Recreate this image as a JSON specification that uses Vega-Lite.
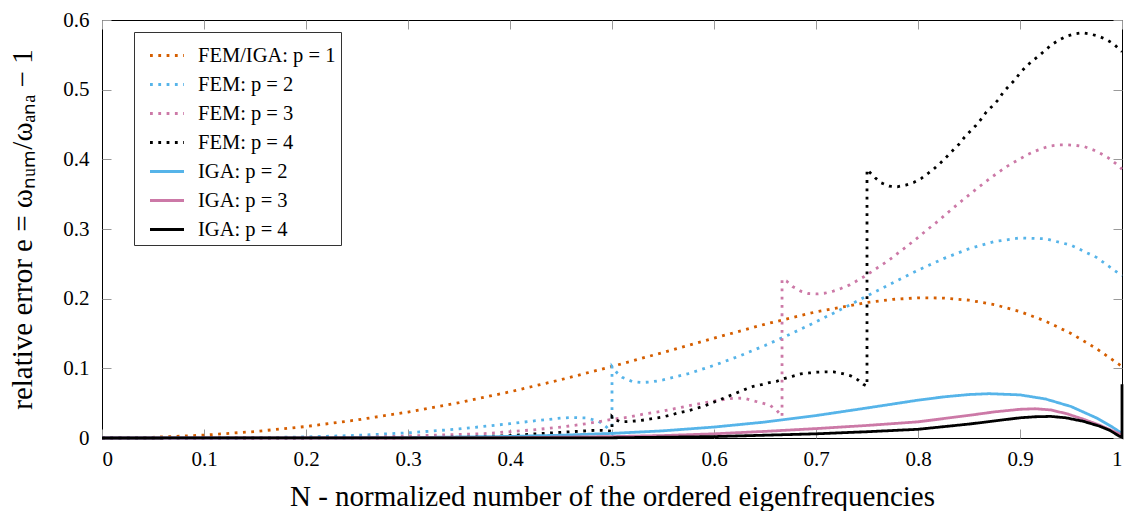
{
  "$schema": "https://vega.github.io/schema/vega-lite/v6.json",
  "width": 1020,
  "height": 418,
  "autosize": "none",
  "padding": {"left": 102, "top": 20, "right": 4, "bottom": 73},
  "background": "white",
  "config": {
    "font": "Liberation Serif",
    "view": {"stroke": "#000000", "strokeWidth": 1},
    "axis": {"grid": false, "domain": false, "labelFont": "Liberation Serif", "titleFont": "Liberation Serif", "labelColor": "#000", "titleColor": "#000", "titleFontWeight": "normal", "tickColor": "#9a9a9a", "tickWidth": 1},
    "legend": {"orient": "none", "legendX": 32, "legendY": 12, "labelFontSize": 20.5, "labelFont": "Liberation Serif", "labelColor": "#000", "symbolType": "stroke", "symbolSize": 1156, "symbolStrokeWidth": 2.8, "fillColor": "white", "strokeColor": "#333", "padding": 5, "rowPadding": 0, "labelOffset": 12.5, "symbolOffset": 9.5}
  },
  "data": {"values": [
    {"s":"FEM/IGA: p = 1","N":0,"e":0,"o":0},{"s":"FEM/IGA: p = 1","N":0.05,"e":0.001,"o":1},{"s":"FEM/IGA: p = 1","N":0.1,"e":0.0041,"o":2},{"s":"FEM/IGA: p = 1","N":0.15,"e":0.0093,"o":3},{"s":"FEM/IGA: p = 1","N":0.2,"e":0.0165,"o":4},{"s":"FEM/IGA: p = 1","N":0.25,"e":0.0259,"o":5},{"s":"FEM/IGA: p = 1","N":0.3,"e":0.0373,"o":6},{"s":"FEM/IGA: p = 1","N":0.35,"e":0.0508,"o":7},{"s":"FEM/IGA: p = 1","N":0.4,"e":0.0663,"o":8},{"s":"FEM/IGA: p = 1","N":0.45,"e":0.0837,"o":9},{"s":"FEM/IGA: p = 1","N":0.5,"e":0.1027,"o":10},{"s":"FEM/IGA: p = 1","N":0.55,"e":0.1228,"o":11},{"s":"FEM/IGA: p = 1","N":0.6,"e":0.1433,"o":12},{"s":"FEM/IGA: p = 1","N":0.65,"e":0.1633,"o":13},{"s":"FEM/IGA: p = 1","N":0.7,"e":0.1811,"o":14},{"s":"FEM/IGA: p = 1","N":0.75,"e":0.1946,"o":15},{"s":"FEM/IGA: p = 1","N":0.775,"e":0.1989,"o":16},{"s":"FEM/IGA: p = 1","N":0.8,"e":0.2012,"o":17},{"s":"FEM/IGA: p = 1","N":0.825,"e":0.2009,"o":18},{"s":"FEM/IGA: p = 1","N":0.85,"e":0.1978,"o":19},{"s":"FEM/IGA: p = 1","N":0.875,"e":0.1914,"o":20},{"s":"FEM/IGA: p = 1","N":0.9,"e":0.1815,"o":21},{"s":"FEM/IGA: p = 1","N":0.925,"e":0.1678,"o":22},{"s":"FEM/IGA: p = 1","N":0.95,"e":0.1501,"o":23},{"s":"FEM/IGA: p = 1","N":0.975,"e":0.1283,"o":24},{"s":"FEM/IGA: p = 1","N":1,"e":0.1027,"o":25},

    {"s":"FEM: p = 2","N":0,"e":0,"o":0},{"s":"FEM: p = 2","N":0.1,"e":0.0001,"o":1},{"s":"FEM: p = 2","N":0.15,"e":0.0005,"o":2},{"s":"FEM: p = 2","N":0.2,"e":0.0016,"o":3},{"s":"FEM: p = 2","N":0.25,"e":0.0038,"o":4},{"s":"FEM: p = 2","N":0.3,"e":0.0074,"o":5},{"s":"FEM: p = 2","N":0.35,"e":0.013,"o":6},{"s":"FEM: p = 2","N":0.4,"e":0.0205,"o":7},{"s":"FEM: p = 2","N":0.425,"e":0.0248,"o":8},{"s":"FEM: p = 2","N":0.45,"e":0.0285,"o":9},{"s":"FEM: p = 2","N":0.46,"e":0.0294,"o":10},{"s":"FEM: p = 2","N":0.475,"e":0.0287,"o":11},{"s":"FEM: p = 2","N":0.485,"e":0.025,"o":12},{"s":"FEM: p = 2","N":0.49,"e":0.0212,"o":13},{"s":"FEM: p = 2","N":0.495,"e":0.0152,"o":14},{"s":"FEM: p = 2","N":0.498,"e":0.0104,"o":15},{"s":"FEM: p = 2","N":0.5,"e":0.0066,"o":16},{"s":"FEM: p = 2","N":0.5,"e":0.1027,"o":17},{"s":"FEM: p = 2","N":0.505,"e":0.0934,"o":18},{"s":"FEM: p = 2","N":0.51,"e":0.0871,"o":19},{"s":"FEM: p = 2","N":0.52,"e":0.081,"o":20},{"s":"FEM: p = 2","N":0.53,"e":0.0797,"o":21},{"s":"FEM: p = 2","N":0.54,"e":0.0808,"o":22},{"s":"FEM: p = 2","N":0.55,"e":0.0833,"o":23},{"s":"FEM: p = 2","N":0.575,"e":0.0924,"o":24},{"s":"FEM: p = 2","N":0.6,"e":0.1042,"o":25},{"s":"FEM: p = 2","N":0.625,"e":0.1177,"o":26},{"s":"FEM: p = 2","N":0.65,"e":0.1328,"o":27},{"s":"FEM: p = 2","N":0.675,"e":0.1492,"o":28},{"s":"FEM: p = 2","N":0.7,"e":0.1667,"o":29},{"s":"FEM: p = 2","N":0.725,"e":0.185,"o":30},{"s":"FEM: p = 2","N":0.75,"e":0.2038,"o":31},{"s":"FEM: p = 2","N":0.775,"e":0.2226,"o":32},{"s":"FEM: p = 2","N":0.8,"e":0.2408,"o":33},{"s":"FEM: p = 2","N":0.825,"e":0.2575,"o":34},{"s":"FEM: p = 2","N":0.85,"e":0.2716,"o":35},{"s":"FEM: p = 2","N":0.875,"e":0.282,"o":36},{"s":"FEM: p = 2","N":0.9,"e":0.2872,"o":37},{"s":"FEM: p = 2","N":0.925,"e":0.2859,"o":38},{"s":"FEM: p = 2","N":0.95,"e":0.2768,"o":39},{"s":"FEM: p = 2","N":0.975,"e":0.2593,"o":40},{"s":"FEM: p = 2","N":1,"e":0.2328,"o":41},

    {"s":"FEM: p = 3","N":0,"e":0,"o":0},{"s":"FEM: p = 3","N":0.1,"e":0,"o":1},{"s":"FEM: p = 3","N":0.2,"e":0.0003,"o":2},{"s":"FEM: p = 3","N":0.25,"e":0.001,"o":3},{"s":"FEM: p = 3","N":0.3,"e":0.0028,"o":4},{"s":"FEM: p = 3","N":0.35,"e":0.0052,"o":5},{"s":"FEM: p = 3","N":0.375,"e":0.0063,"o":6},{"s":"FEM: p = 3","N":0.4,"e":0.009,"o":7},{"s":"FEM: p = 3","N":0.425,"e":0.012,"o":8},{"s":"FEM: p = 3","N":0.45,"e":0.0157,"o":9},{"s":"FEM: p = 3","N":0.475,"e":0.0205,"o":10},{"s":"FEM: p = 3","N":0.5,"e":0.0268,"o":11},{"s":"FEM: p = 3","N":0.516,"e":0.0298,"o":12},{"s":"FEM: p = 3","N":0.532,"e":0.0346,"o":13},{"s":"FEM: p = 3","N":0.549,"e":0.0384,"o":14},{"s":"FEM: p = 3","N":0.565,"e":0.0432,"o":15},{"s":"FEM: p = 3","N":0.581,"e":0.048,"o":16},{"s":"FEM: p = 3","N":0.598,"e":0.0527,"o":17},{"s":"FEM: p = 3","N":0.614,"e":0.0562,"o":18},{"s":"FEM: p = 3","N":0.622,"e":0.0572,"o":19},{"s":"FEM: p = 3","N":0.63,"e":0.057,"o":20},{"s":"FEM: p = 3","N":0.6386,"e":0.0535,"o":21},{"s":"FEM: p = 3","N":0.6467,"e":0.0504,"o":22},{"s":"FEM: p = 3","N":0.655,"e":0.047,"o":23},{"s":"FEM: p = 3","N":0.6614,"e":0.0398,"o":24},{"s":"FEM: p = 3","N":0.6667,"e":0.031,"o":25},{"s":"FEM: p = 3","N":0.6667,"e":0.228,"o":26},{"s":"FEM: p = 3","N":0.671,"e":0.2255,"o":27},{"s":"FEM: p = 3","N":0.677,"e":0.2174,"o":28},{"s":"FEM: p = 3","N":0.685,"e":0.2108,"o":29},{"s":"FEM: p = 3","N":0.6925,"e":0.2074,"o":30},{"s":"FEM: p = 3","N":0.7007,"e":0.2068,"o":31},{"s":"FEM: p = 3","N":0.7088,"e":0.2079,"o":32},{"s":"FEM: p = 3","N":0.717,"e":0.2108,"o":33},{"s":"FEM: p = 3","N":0.725,"e":0.215,"o":34},{"s":"FEM: p = 3","N":0.733,"e":0.2198,"o":35},{"s":"FEM: p = 3","N":0.7405,"e":0.226,"o":36},{"s":"FEM: p = 3","N":0.7474,"e":0.2317,"o":37},{"s":"FEM: p = 3","N":0.7539,"e":0.238,"o":38},{"s":"FEM: p = 3","N":0.7611,"e":0.2452,"o":39},{"s":"FEM: p = 3","N":0.768,"e":0.2518,"o":40},{"s":"FEM: p = 3","N":0.775,"e":0.259,"o":41},{"s":"FEM: p = 3","N":0.7814,"e":0.2666,"o":42},{"s":"FEM: p = 3","N":0.788,"e":0.2738,"o":43},{"s":"FEM: p = 3","N":0.7944,"e":0.2814,"o":44},{"s":"FEM: p = 3","N":0.801,"e":0.289,"o":45},{"s":"FEM: p = 3","N":0.8075,"e":0.2971,"o":46},{"s":"FEM: p = 3","N":0.814,"e":0.3048,"o":47},{"s":"FEM: p = 3","N":0.8206,"e":0.3124,"o":48},{"s":"FEM: p = 3","N":0.8268,"e":0.3205,"o":49},{"s":"FEM: p = 3","N":0.833,"e":0.3282,"o":50},{"s":"FEM: p = 3","N":0.8395,"e":0.3363,"o":51},{"s":"FEM: p = 3","N":0.8458,"e":0.344,"o":52},{"s":"FEM: p = 3","N":0.8523,"e":0.3516,"o":53},{"s":"FEM: p = 3","N":0.8588,"e":0.3592,"o":54},{"s":"FEM: p = 3","N":0.8654,"e":0.3668,"o":55},{"s":"FEM: p = 3","N":0.8719,"e":0.374,"o":56},{"s":"FEM: p = 3","N":0.8787,"e":0.3812,"o":57},{"s":"FEM: p = 3","N":0.8856,"e":0.3884,"o":58},{"s":"FEM: p = 3","N":0.8925,"e":0.3945,"o":59},{"s":"FEM: p = 3","N":0.8997,"e":0.4003,"o":60},{"s":"FEM: p = 3","N":0.9069,"e":0.4064,"o":61},{"s":"FEM: p = 3","N":0.9147,"e":0.4117,"o":62},{"s":"FEM: p = 3","N":0.9225,"e":0.416,"o":63},{"s":"FEM: p = 3","N":0.9304,"e":0.4193,"o":64},{"s":"FEM: p = 3","N":0.9385,"e":0.4207,"o":65},{"s":"FEM: p = 3","N":0.9468,"e":0.4207,"o":66},{"s":"FEM: p = 3","N":0.9552,"e":0.4199,"o":67},{"s":"FEM: p = 3","N":0.9634,"e":0.418,"o":68},{"s":"FEM: p = 3","N":0.9716,"e":0.4136,"o":69},{"s":"FEM: p = 3","N":0.9791,"e":0.4084,"o":70},{"s":"FEM: p = 3","N":0.9866,"e":0.4022,"o":71},{"s":"FEM: p = 3","N":0.993,"e":0.395,"o":72},{"s":"FEM: p = 3","N":1,"e":0.386,"o":73},

    {"s":"FEM: p = 4","N":0,"e":0,"o":0},{"s":"FEM: p = 4","N":0.2,"e":0,"o":1},{"s":"FEM: p = 4","N":0.3,"e":0.0004,"o":2},{"s":"FEM: p = 4","N":0.35,"e":0.0012,"o":3},{"s":"FEM: p = 4","N":0.4,"e":0.0035,"o":4},{"s":"FEM: p = 4","N":0.426,"e":0.006,"o":5},{"s":"FEM: p = 4","N":0.452,"e":0.0083,"o":6},{"s":"FEM: p = 4","N":0.469,"e":0.0098,"o":7},{"s":"FEM: p = 4","N":0.48,"e":0.0108,"o":8},{"s":"FEM: p = 4","N":0.49,"e":0.011,"o":9},{"s":"FEM: p = 4","N":0.497,"e":0.0102,"o":10},{"s":"FEM: p = 4","N":0.5,"e":0.0095,"o":11},{"s":"FEM: p = 4","N":0.5,"e":0.031,"o":12},{"s":"FEM: p = 4","N":0.504,"e":0.026,"o":13},{"s":"FEM: p = 4","N":0.508,"e":0.0232,"o":14},{"s":"FEM: p = 4","N":0.516,"e":0.0236,"o":15},{"s":"FEM: p = 4","N":0.524,"e":0.0245,"o":16},{"s":"FEM: p = 4","N":0.532,"e":0.026,"o":17},{"s":"FEM: p = 4","N":0.54,"e":0.028,"o":18},{"s":"FEM: p = 4","N":0.549,"e":0.03,"o":19},{"s":"FEM: p = 4","N":0.557,"e":0.0327,"o":20},{"s":"FEM: p = 4","N":0.565,"e":0.036,"o":21},{"s":"FEM: p = 4","N":0.573,"e":0.0384,"o":22},{"s":"FEM: p = 4","N":0.581,"e":0.0418,"o":23},{"s":"FEM: p = 4","N":0.59,"e":0.0456,"o":24},{"s":"FEM: p = 4","N":0.598,"e":0.0504,"o":25},{"s":"FEM: p = 4","N":0.606,"e":0.0551,"o":26},{"s":"FEM: p = 4","N":0.614,"e":0.0599,"o":27},{"s":"FEM: p = 4","N":0.622,"e":0.0647,"o":28},{"s":"FEM: p = 4","N":0.63,"e":0.0695,"o":29},{"s":"FEM: p = 4","N":0.6386,"e":0.0742,"o":30},{"s":"FEM: p = 4","N":0.6467,"e":0.0766,"o":31},{"s":"FEM: p = 4","N":0.653,"e":0.079,"o":32},{"s":"FEM: p = 4","N":0.6614,"e":0.0814,"o":33},{"s":"FEM: p = 4","N":0.6686,"e":0.0852,"o":34},{"s":"FEM: p = 4","N":0.6768,"e":0.0885,"o":35},{"s":"FEM: p = 4","N":0.685,"e":0.0919,"o":36},{"s":"FEM: p = 4","N":0.6934,"e":0.0934,"o":37},{"s":"FEM: p = 4","N":0.7013,"e":0.0945,"o":38},{"s":"FEM: p = 4","N":0.7095,"e":0.095,"o":39},{"s":"FEM: p = 4","N":0.7176,"e":0.0948,"o":40},{"s":"FEM: p = 4","N":0.7261,"e":0.0924,"o":41},{"s":"FEM: p = 4","N":0.734,"e":0.0893,"o":42},{"s":"FEM: p = 4","N":0.741,"e":0.0835,"o":43},{"s":"FEM: p = 4","N":0.7464,"e":0.077,"o":44},{"s":"FEM: p = 4","N":0.75,"e":0.0745,"o":45},{"s":"FEM: p = 4","N":0.75,"e":0.3855,"o":46},{"s":"FEM: p = 4","N":0.758,"e":0.3735,"o":47},{"s":"FEM: p = 4","N":0.7637,"e":0.3664,"o":48},{"s":"FEM: p = 4","N":0.7716,"e":0.3616,"o":49},{"s":"FEM: p = 4","N":0.7797,"e":0.3606,"o":50},{"s":"FEM: p = 4","N":0.788,"e":0.363,"o":51},{"s":"FEM: p = 4","N":0.7958,"e":0.3668,"o":52},{"s":"FEM: p = 4","N":0.8033,"e":0.3726,"o":53},{"s":"FEM: p = 4","N":0.8098,"e":0.3797,"o":54},{"s":"FEM: p = 4","N":0.8164,"e":0.3874,"o":55},{"s":"FEM: p = 4","N":0.8225,"e":0.3955,"o":56},{"s":"FEM: p = 4","N":0.8284,"e":0.4041,"o":57},{"s":"FEM: p = 4","N":0.8343,"e":0.4131,"o":58},{"s":"FEM: p = 4","N":0.8402,"e":0.4217,"o":59},{"s":"FEM: p = 4","N":0.8454,"e":0.4313,"o":60},{"s":"FEM: p = 4","N":0.851,"e":0.44,"o":61},{"s":"FEM: p = 4","N":0.857,"e":0.449,"o":62},{"s":"FEM: p = 4","N":0.8624,"e":0.4585,"o":63},{"s":"FEM: p = 4","N":0.867,"e":0.468,"o":64},{"s":"FEM: p = 4","N":0.873,"e":0.4766,"o":65},{"s":"FEM: p = 4","N":0.879,"e":0.486,"o":66},{"s":"FEM: p = 4","N":0.8837,"e":0.4966,"o":67},{"s":"FEM: p = 4","N":0.889,"e":0.505,"o":68},{"s":"FEM: p = 4","N":0.895,"e":0.514,"o":69},{"s":"FEM: p = 4","N":0.9,"e":0.524,"o":70},{"s":"FEM: p = 4","N":0.9056,"e":0.5325,"o":71},{"s":"FEM: p = 4","N":0.9115,"e":0.5406,"o":72},{"s":"FEM: p = 4","N":0.918,"e":0.548,"o":73},{"s":"FEM: p = 4","N":0.9245,"e":0.5563,"o":74},{"s":"FEM: p = 4","N":0.931,"e":0.5645,"o":75},{"s":"FEM: p = 4","N":0.9376,"e":0.5707,"o":76},{"s":"FEM: p = 4","N":0.945,"e":0.5764,"o":77},{"s":"FEM: p = 4","N":0.953,"e":0.58,"o":78},{"s":"FEM: p = 4","N":0.961,"e":0.5817,"o":79},{"s":"FEM: p = 4","N":0.9686,"e":0.58,"o":80},{"s":"FEM: p = 4","N":0.9777,"e":0.5764,"o":81},{"s":"FEM: p = 4","N":0.985,"e":0.5717,"o":82},{"s":"FEM: p = 4","N":0.9915,"e":0.566,"o":83},{"s":"FEM: p = 4","N":1,"e":0.5545,"o":84},

    {"s":"IGA: p = 2","N":0,"e":0,"o":0},{"s":"IGA: p = 2","N":0.1,"e":0,"o":1},{"s":"IGA: p = 2","N":0.2,"e":0.0001,"o":2},{"s":"IGA: p = 2","N":0.3,"e":0.0006,"o":3},{"s":"IGA: p = 2","N":0.4,"e":0.0023,"o":4},{"s":"IGA: p = 2","N":0.45,"e":0.004,"o":5},{"s":"IGA: p = 2","N":0.5,"e":0.0066,"o":6},{"s":"IGA: p = 2","N":0.55,"e":0.0103,"o":7},{"s":"IGA: p = 2","N":0.6,"e":0.0157,"o":8},{"s":"IGA: p = 2","N":0.65,"e":0.0229,"o":9},{"s":"IGA: p = 2","N":0.7,"e":0.0322,"o":10},{"s":"IGA: p = 2","N":0.75,"e":0.0431,"o":11},{"s":"IGA: p = 2","N":0.8,"e":0.0543,"o":12},{"s":"IGA: p = 2","N":0.825,"e":0.059,"o":13},{"s":"IGA: p = 2","N":0.85,"e":0.0624,"o":14},{"s":"IGA: p = 2","N":0.87,"e":0.0636,"o":15},{"s":"IGA: p = 2","N":0.9,"e":0.0619,"o":16},{"s":"IGA: p = 2","N":0.925,"e":0.056,"o":17},{"s":"IGA: p = 2","N":0.95,"e":0.0452,"o":18},{"s":"IGA: p = 2","N":0.975,"e":0.0288,"o":19},{"s":"IGA: p = 2","N":0.99,"e":0.0162,"o":20},{"s":"IGA: p = 2","N":1,"e":0.0066,"o":21},

    {"s":"IGA: p = 3","N":0,"e":0,"o":0},{"s":"IGA: p = 3","N":0.3,"e":0,"o":1},{"s":"IGA: p = 3","N":0.4,"e":0.0004,"o":2},{"s":"IGA: p = 3","N":0.5,"e":0.002,"o":3},{"s":"IGA: p = 3","N":0.55,"e":0.0035,"o":4},{"s":"IGA: p = 3","N":0.6,"e":0.006,"o":5},{"s":"IGA: p = 3","N":0.65,"e":0.0095,"o":6},{"s":"IGA: p = 3","N":0.7,"e":0.0135,"o":7},{"s":"IGA: p = 3","N":0.75,"e":0.018,"o":8},{"s":"IGA: p = 3","N":0.8,"e":0.0232,"o":9},{"s":"IGA: p = 3","N":0.85,"e":0.0325,"o":10},{"s":"IGA: p = 3","N":0.875,"e":0.0375,"o":11},{"s":"IGA: p = 3","N":0.9,"e":0.0412,"o":12},{"s":"IGA: p = 3","N":0.915,"e":0.042,"o":13},{"s":"IGA: p = 3","N":0.93,"e":0.0403,"o":14},{"s":"IGA: p = 3","N":0.946,"e":0.0348,"o":15},{"s":"IGA: p = 3","N":0.962,"e":0.027,"o":16},{"s":"IGA: p = 3","N":0.978,"e":0.0185,"o":17},{"s":"IGA: p = 3","N":0.988,"e":0.012,"o":18},{"s":"IGA: p = 3","N":1,"e":0.0045,"o":19},

    {"s":"IGA: p = 4","N":0,"e":0,"o":0},{"s":"IGA: p = 4","N":0.5,"e":0.0003,"o":1},{"s":"IGA: p = 4","N":0.6,"e":0.002,"o":2},{"s":"IGA: p = 4","N":0.7,"e":0.006,"o":3},{"s":"IGA: p = 4","N":0.75,"e":0.009,"o":4},{"s":"IGA: p = 4","N":0.8,"e":0.0125,"o":5},{"s":"IGA: p = 4","N":0.85,"e":0.02,"o":6},{"s":"IGA: p = 4","N":0.875,"e":0.0245,"o":7},{"s":"IGA: p = 4","N":0.9,"e":0.029,"o":8},{"s":"IGA: p = 4","N":0.915,"e":0.0305,"o":9},{"s":"IGA: p = 4","N":0.93,"e":0.031,"o":10},{"s":"IGA: p = 4","N":0.945,"e":0.029,"o":11},{"s":"IGA: p = 4","N":0.962,"e":0.024,"o":12},{"s":"IGA: p = 4","N":0.978,"e":0.017,"o":13},{"s":"IGA: p = 4","N":0.988,"e":0.011,"o":14},{"s":"IGA: p = 4","N":0.997,"e":0.003,"o":15},{"s":"IGA: p = 4","N":1,"e":0.001,"o":16},{"s":"IGA: p = 4","N":1,"e":0.077,"o":17}
  ]},
  "layer": [
    {
      "mark": {"type": "line", "strokeWidth": 2.8, "strokeCap": "butt"},
      "encoding": {
        "x": {"field": "N", "type": "quantitative", "scale": {"domain": [0, 1], "nice": false},
              "axis": {"orient": "bottom", "values": [0,0.1,0.2,0.3,0.4,0.5,0.6,0.7,0.8,0.9,1], "format": "~g", "labelFont": "Liberation Serif", "labelFontSize": 21, "tickSize": -9, "labelPadding": 19.5, "title": "N - normalized number of the ordered eigenfrequencies", "titleFont": "Liberation Serif", "titleFontSize": 29, "titlePadding": 13}},
        "y": {"field": "e", "type": "quantitative", "scale": {"domain": [0, 0.6], "nice": false},
              "axis": {"orient": "left", "values": [0,0.1,0.2,0.3,0.4,0.5,0.6], "format": "~g", "labelFont": "Liberation Serif", "labelFontSize": 21, "tickSize": -9, "labelPadding": 22, "title": "relative error e = ωₙᵤₘ/ωₐₙₐ − 1", "titleFont": "Liberation Serif", "titleFontSize": 29, "titlePadding": 25}},
        "color": {"field": "s", "type": "nominal",
                  "scale": {"domain": ["FEM/IGA: p = 1","FEM: p = 2","FEM: p = 3","FEM: p = 4","IGA: p = 2","IGA: p = 3","IGA: p = 4"],
                            "range": ["#D55E00","#56B4E9","#CC79A7","#000000","#56B4E9","#CC79A7","#000000"]},
                  "legend": {"title": null, "labelExpr": "datum.label + '\u2002'"}},
        "strokeDash": {"field": "s", "type": "nominal",
                  "scale": {"domain": ["FEM/IGA: p = 1","FEM: p = 2","FEM: p = 3","FEM: p = 4","IGA: p = 2","IGA: p = 3","IGA: p = 4"],
                            "range": [[2.8,5.5],[2.8,5.5],[2.8,5.5],[2.8,5.5],[1,0],[1,0],[1,0]]},
                  "legend": {"title": null, "labelExpr": "datum.label + '\u2002'"}},
        "order": {"field": "o", "type": "quantitative"}
      }
    },
    {
      "mark": {"type": "point", "opacity": 0},
      "encoding": {
        "x": {"field": "N", "type": "quantitative", "scale": {"domain": [0, 1], "nice": false},
              "axis": {"orient": "top", "values": [0,0.1,0.2,0.3,0.4,0.5,0.6,0.7,0.8,0.9,1], "labels": false, "tickSize": -9, "title": null}},
        "y": {"field": "e", "type": "quantitative", "scale": {"domain": [0, 0.6], "nice": false},
              "axis": {"orient": "right", "values": [0,0.1,0.2,0.3,0.4,0.5,0.6], "labels": false, "tickSize": -9, "title": null}}
      }
    }
  ],
  "resolve": {"axis": {"x": "independent", "y": "independent"}}
}
